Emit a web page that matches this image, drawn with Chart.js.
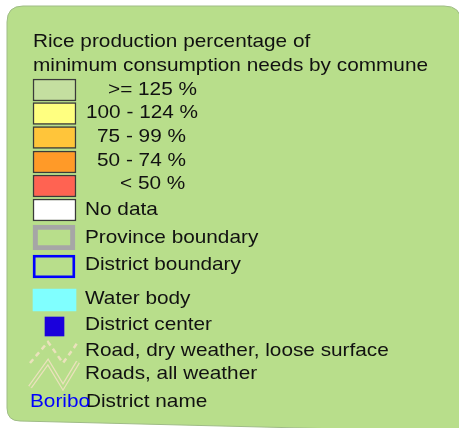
<!DOCTYPE html>
<html>
<head>
<meta charset="utf-8">
<script src="https://cdn.jsdelivr.net/npm/chart.js@4.4.1/dist/chart.umd.min.js"></script>
<style>
  html, body { margin: 0; padding: 0; background: #fff; }
  .legend-outer { width: 459px; height: 428px; }
</style>
</head>
<body>
<div class="legend-outer"><canvas id="legendChart" width="459" height="428"></canvas></div>
<script>
// legend content
const titleLines  = ['Rice production percentage of', 'minimum consumption needs by commune'];
const classLabels = ['>= 125 %', '100 - 124 %', '75 - 99 %', '50 - 74 %', '< 50 %'];
const classColors = ['#c4dfa0', '#ffff80', '#ffc53a', '#ff9a28', '#ff6352'];
const otherLabels = ['No data', 'Province boundary', 'District boundary', 'Water body',
                     'District center', 'Road, dry weather, loose surface', 'Roads, all weather', 'District name'];
const sampleName  = 'Boribo';

// layout (canvas px units, mapped through the hidden linear scales)
const W = 459, H = 428;
const swatchX   = [33, 76];
const classRowY = [90, 113.5, 137.5, 162, 186];
const rowY = { nodata: 210, province: 237.5, district: 266.5, water: 300, center: 326.5 };
const centerX   = [45, 64];
const roadDryPts = [[30, 363], [48, 342], [63, 363], [78, 342]];
const roadAllPts = [[30, 387], [48, 362], [63, 387], [78, 362]];
const titleBase  = [47, 71];
const classTextX = [108, 86, 97, 97, 120];
const classBase  = [94.7, 118.3, 142.3, 165.7, 189];
const otherTextX = 85;
const otherBase  = [215, 242.7, 270, 304, 330, 355.7, 379.3, 407.3];
const sampleX    = 30;

// colours
const bgGreen = '#b8de8b', boxEdge = '#9fbc86';
const roadBeige = '#ebe2bc';

const bar = (xr, y) => ({ x: xr.slice(), y });

const canvas = document.getElementById('legendChart');
const ctx = canvas.getContext('2d');

// rounded panel behind everything
const panelPlugin = {
  id: 'panel',
  beforeDraw(c) {
    const g = c.ctx;
    g.save();
    g.beginPath();
    g.moveTo(7, 22);
    g.quadraticCurveTo(7, 6, 23, 6);
    g.lineTo(444, 6);
    g.quadraticCurveTo(461, 6, 461, 22);
    g.lineTo(462, 432);
    g.lineTo(20, 421);
    g.quadraticCurveTo(7, 421, 7, 408);
    g.closePath();
    g.fillStyle = bgGreen;
    g.fill();
    g.lineWidth = 1;
    g.strokeStyle = boxEdge;
    g.stroke();
    g.restore();
  }
};

// text labels
const FONT = "18.4px 'Liberation Sans', Arial, sans-serif";
const XSTRETCH = 1.13;
const textPlugin = {
  id: 'legendText',
  afterDatasetsDraw(c) {
    const g = c.ctx, sx = c.scales.x, sy = c.scales.y;
    const put = (txt, x, y, col) => {
      g.save();
      g.translate(sx.getPixelForValue(x), sy.getPixelForValue(y));
      g.scale(XSTRETCH, 1);
      g.fillStyle = col || '#111';
      g.font = FONT;
      g.textBaseline = 'alphabetic';
      g.textAlign = 'left';
      g.fillText(txt, 0, 0);
      g.restore();
    };
    titleLines.forEach((t, i) => put(t, 33, titleBase[i]));
    classLabels.forEach((t, i) => put(t, classTextX[i], classBase[i]));
    otherLabels.forEach((t, i) => put(t, i === otherLabels.length - 1 ? 86 : otherTextX, otherBase[i]));
    put(sampleName, sampleX, otherBase[otherBase.length - 1], '#0000ff');
  }
};

const chart = new Chart(ctx, {
  type: 'bar',
  data: {
    datasets: [
      {
        label: 'fills', indexAxis: 'y', grouped: false, barThickness: 22, borderSkipped: false,
        data: [...classRowY.map(y => bar(swatchX, y)), bar(swatchX, rowY.nodata), bar(swatchX, rowY.water)],
        backgroundColor: [...classColors, '#ffffff', '#80ffff'],
        borderColor: ['#3a3a3a', '#3a3a3a', '#3a3a3a', '#3a3a3a', '#3a3a3a', '#3a3a3a', '#80ffff'],
        borderWidth: [1.5, 1.5, 1.5, 1.5, 1.5, 1.5, 0]
      },
      {
        label: 'province', indexAxis: 'y', grouped: false, barThickness: 25, borderSkipped: false,
        data: [bar([33, 75], rowY.province)],
        backgroundColor: 'rgba(0,0,0,0)', borderColor: '#a6a6a6', borderWidth: 4.5
      },
      {
        label: 'district', indexAxis: 'y', grouped: false, barThickness: 23, borderSkipped: false,
        data: [bar([33, 75], rowY.district)],
        backgroundColor: 'rgba(0,0,0,0)', borderColor: '#0000ff', borderWidth: 2.2
      },
      {
        label: 'center', indexAxis: 'y', grouped: false, barThickness: 19, borderSkipped: false,
        data: [bar(centerX, rowY.center)],
        backgroundColor: '#1a00dc', borderWidth: 0
      },
      {
        type: 'line', label: 'road dry', indexAxis: 'x', order: 0,
        data: roadDryPts.map(p => ({ x: p[0], y: p[1] })),
        borderColor: roadBeige, borderWidth: 2.5, borderDash: [5, 4], pointRadius: 0, tension: 0, fill: false
      },
      {
        type: 'line', label: 'road all outer', indexAxis: 'x', order: 2,
        data: roadAllPts.map(p => ({ x: p[0], y: p[1] })),
        borderColor: roadBeige, borderWidth: 4.5, pointRadius: 0, tension: 0, fill: false
      },
      {
        type: 'line', label: 'road all inner', indexAxis: 'x', order: 1,
        data: roadAllPts.map(p => ({ x: p[0], y: p[1] })),
        borderColor: bgGreen, borderWidth: 2, pointRadius: 0, tension: 0, fill: false
      }
    ]
  },
  options: {
    responsive: false, animation: false, events: [],
    layout: { padding: 0 },
    scales: {
      x: { type: 'linear', min: 0, max: W, offset: false, grace: 0, display: false },
      y: { type: 'linear', min: 0, max: H, offset: false, grace: 0, reverse: true, display: false }
    },
    plugins: { legend: { display: false }, tooltip: { enabled: false } }
  },
  plugins: [panelPlugin, textPlugin]
});
</script>
</body>
</html>
